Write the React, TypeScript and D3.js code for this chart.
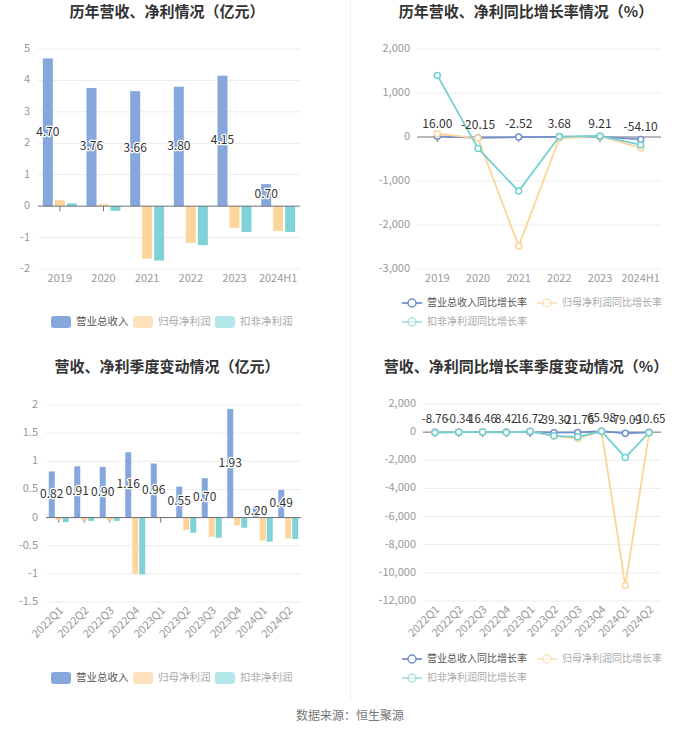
import React from 'react';
import * as d3 from 'd3';

const years = ['2019', '2020', '2021', '2022', '2023', '2024H1'];
const revenue = [4.7, 3.76, 3.66, 3.8, 4.15, 0.7];
const netProfit = [0.19, 0.06, -1.67, -1.17, -0.69, -0.79];
const deductedProfit = [0.09, -0.15, -1.73, -1.24, -0.82, -0.82];
const barYTicks = [-2, -1, 0, 1, 2, 3, 4, 5];

const revenueGrowth = [16.0, -20.15, -2.52, 3.68, 9.21, -54.1];
const netProfitGrowth = [75, -30, -2480, -30, 20, -250];
const deductedGrowth = [1400, -260, -1230, 10, 25, -180];
const growthYTicks = [-3000, -2000, -1000, 0, 1000, 2000];

const quarters = ['2022Q1', '2022Q2', '2022Q3', '2022Q4', '2023Q1', '2023Q2', '2023Q3', '2023Q4', '2024Q1', '2024Q2'];
const qRevenue = [0.82, 0.91, 0.9, 1.16, 0.96, 0.55, 0.7, 1.93, 0.2, 0.49];
const qNetProfit = [-0.04, -0.05, -0.05, -1.0, -0.01, -0.22, -0.34, -0.14, -0.41, -0.37];
const qDeducted = [-0.08, -0.06, -0.06, -1.01, -0.005, -0.27, -0.36, -0.18, -0.43, -0.38];
const qBarYTicks = [-1.5, -1, -0.5, 0, 0.5, 1, 1.5, 2];

const qRevenueGrowth = [-8.76, -0.34, 16.46, 8.42, 16.72, -39.3, -21.76, 65.98, -79.09, -10.65];
const qNetProfitGrowth = [-20, 10, 5, -30, 70, -280, -450, 80, -10900, -60];
const qDeductedGrowth = [-25, 5, 10, -20, 60, -260, -330, 60, -1800, -40];
const qGrowthYTicks = [-12000, -10000, -8000, -6000, -4000, -2000, 0, 2000];

const barSeriesNames = ['营业总收入', '归母净利润', '扣非净利润'];
const lineSeriesNames = ['营业总收入同比增长率', '归母净利润同比增长率', '扣非净利润同比增长率'];

const FONT = '"Noto Sans CJK SC", "Microsoft YaHei", sans-serif';
const BAR_COLORS = ['#86a7dc', '#fdd59c', '#7fd3d7'];
const LEGEND_BAR_COLORS = ['#86a7dc', '#fde2bb', '#b4e7ea'];
const LINE_COLORS = ['#7191cf', '#fdd49a', '#72d0d2'];
const AXIS = '#6e7079';
const GRID = '#ececec';
const LABEL = '#999';

const fmtThousands = (v: number) => v.toLocaleString('en-US');
const fmtPlain = (v: number) => String(v);

type BarProps = {
  cats: string[];
  series: number[][];
  ticks: number[];
  x0: number; x1: number; yTop: number; yBot: number;
  barW: number; gap: number;
  rotate: boolean;
  title: string; titleX: number; titleY: number;
  legendY: number;
};

function BarPanel(p: BarProps) {
  const y = d3.scaleLinear().domain([p.ticks[0], p.ticks[p.ticks.length - 1]]).range([p.yBot, p.yTop]);
  const x = d3.scaleBand().domain(p.cats).range([p.x0, p.x1]);
  const groupW = p.barW * 3 + p.gap * 2;
  const inner = d3.scaleBand().domain(['0', '1', '2']).range([-groupW / 2, groupW / 2]).paddingInner(p.gap / (p.barW + p.gap));
  const y0 = y(0);
  return (
    <g>
      <text x={p.titleX} y={p.titleY} textAnchor="middle" dominantBaseline="middle" fontSize={15} fontWeight="bold" fill="#333">{p.title}</text>
      {p.ticks.map((t) => (
        <g key={t}>
          {t !== 0 && <line x1={p.x0} x2={p.x1} y1={y(t)} y2={y(t)} stroke={GRID} />}
          <text x={p.x0 - 8} y={y(t)} textAnchor="end" dominantBaseline="middle" fontSize={11} fill={LABEL}>{fmtPlain(t)}</text>
        </g>
      ))}
      {p.cats.map((c) => {
        const cx = (x(c) as number) + x.bandwidth() / 2;
        return <line key={c} x1={cx} x2={cx} y1={y0} y2={y0 + 5} stroke={AXIS} />;
      })}
      {p.series.map((s, si) =>
        s.map((v, i) => {
          const cx = (x(p.cats[i]) as number) + x.bandwidth() / 2;
          const bx = cx + (inner(String(si)) as number);
          const top = Math.min(y(v), y0);
          const h = Math.abs(y(v) - y0);
          return <rect key={si + '-' + i} x={bx} y={top} width={inner.bandwidth()} height={Math.max(h, 0.5)} fill={BAR_COLORS[si]} />;
        })
      )}
      <line x1={p.x0} x2={p.x1} y1={y0} y2={y0} stroke={AXIS} />
      {p.series[0].map((v, i) => {
        const cx = (x(p.cats[i]) as number) + x.bandwidth() / 2 + (inner('0') as number) + inner.bandwidth() / 2;
        return (
          <text key={'l' + i} x={cx} y={(y(v) + y0) / 2} textAnchor="middle" dominantBaseline="middle" fontSize={12}
            fill="#333" stroke="#fff" strokeWidth={2.5} paintOrder="stroke" strokeLinejoin="round">{v.toFixed(2)}</text>
        );
      })}
      {p.cats.map((c) => {
        const cx = (x(c) as number) + x.bandwidth() / 2;
        return p.rotate ? (
          <text key={'x' + c} transform={`translate(${cx + 3},${p.yBot + 7}) rotate(-45)`} textAnchor="end" dominantBaseline="middle" fontSize={11} fill={LABEL}>{c}</text>
        ) : (
          <text key={'x' + c} x={cx} y={p.yBot + 10} textAnchor="middle" dominantBaseline="middle" fontSize={11} fill={LABEL}>{c}</text>
        );
      })}
      {barSeriesNames.map((n, i) => {
        const lx = [51, 133, 215][i];
        return (
          <g key={n}>
            <rect x={lx} y={p.legendY - 6} width={20} height={12} rx={3} fill={LEGEND_BAR_COLORS[i]} />
            <text x={lx + 25} y={p.legendY} dominantBaseline="middle" fontSize={10.5} fill={i === 0 ? '#555' : '#aaa'}>{n}</text>
          </g>
        );
      })}
    </g>
  );
}

type LineProps = {
  cats: string[];
  series: number[][];
  ticks: number[];
  x0: number; x1: number; yTop: number; yBot: number;
  rotate: boolean;
  title: string; titleX: number; titleY: number;
  legendY1: number; legendY2: number;
  labelSize: number;
};

function LinePanel(p: LineProps) {
  const y = d3.scaleLinear().domain([p.ticks[0], p.ticks[p.ticks.length - 1]]).range([p.yBot, p.yTop]);
  const x = d3.scalePoint().domain(p.cats).range([p.x0, p.x1]).padding(0.5);
  const y0 = y(0);
  const line = d3.line<number>().x((_, i) => x(p.cats[i]) as number).y((v) => y(v));
  return (
    <g>
      <text x={p.titleX} y={p.titleY} textAnchor="middle" dominantBaseline="middle" fontSize={15} fontWeight="bold" fill="#333">{p.title}</text>
      {p.ticks.map((t) => (
        <g key={t}>
          {t !== 0 && <line x1={p.x0} x2={p.x1} y1={y(t)} y2={y(t)} stroke={GRID} />}
          <text x={p.x0 - 7} y={y(t)} textAnchor="end" dominantBaseline="middle" fontSize={11} fill={LABEL}>{fmtThousands(t)}</text>
        </g>
      ))}
      <line x1={p.x0} x2={p.x1} y1={y0} y2={y0} stroke={AXIS} />
      {p.cats.map((c) => (
        <line key={c} x1={x(c) as number} x2={x(c) as number} y1={y0} y2={y0 + 5} stroke={AXIS} />
      ))}
      {p.series.map((s, si) => (
        <g key={si}>
          <path d={line(s) || ''} fill="none" stroke={LINE_COLORS[si]} strokeWidth={1.8} />
          {s.map((v, i) => (
            <circle key={i} cx={x(p.cats[i]) as number} cy={y(v)} r={3} fill="#fff" stroke={LINE_COLORS[si]} strokeWidth={1.5} />
          ))}
        </g>
      ))}
      {p.series[0].map((v, i) => (
        <text key={'l' + i} x={x(p.cats[i]) as number} y={y(v) - 12} textAnchor="middle" dominantBaseline="middle" fontSize={p.labelSize} fill="#333">{v.toFixed(2)}</text>
      ))}
      {p.cats.map((c) => {
        const cx = x(c) as number;
        return p.rotate ? (
          <text key={'x' + c} transform={`translate(${cx + 3},${p.yBot + 7}) rotate(-45)`} textAnchor="end" dominantBaseline="middle" fontSize={11} fill={LABEL}>{c}</text>
        ) : (
          <text key={'x' + c} x={cx} y={p.yBot + 10} textAnchor="middle" dominantBaseline="middle" fontSize={11} fill={LABEL}>{c}</text>
        );
      })}
      {lineSeriesNames.map((n, i) => {
        const lx = [402, 537, 402][i];
        const ly = i === 2 ? p.legendY2 : p.legendY1;
        return (
          <g key={n}>
            <line x1={lx} x2={lx + 20} y1={ly} y2={ly} stroke={LINE_COLORS[i]} strokeWidth={1.8} opacity={i === 0 ? 1 : 0.6} />
            <circle cx={lx + 10} cy={ly} r={4} fill="#fff" stroke={LINE_COLORS[i]} strokeWidth={1.5} opacity={i === 0 ? 1 : 0.6} />
            <text x={lx + 25} y={ly} dominantBaseline="middle" fontSize={10} fill={i === 0 ? '#555' : '#aaa'}>{n}</text>
          </g>
        );
      })}
    </g>
  );
}

export default function App() {
  return (
    <svg width={700} height={734} style={{ position: 'absolute', left: 0, top: 0, background: '#fff' }} fontFamily={FONT}>
      <rect x={0} y={0} width={700} height={734} fill="#fff" />
      <line x1={350.5} x2={350.5} y1={0} y2={700} stroke="#f0f0f0" />
      <BarPanel cats={years} series={[revenue, netProfit, deductedProfit]} ticks={barYTicks}
        x0={38} x1={300} yTop={49} yBot={269} barW={10} gap={2} rotate={false}
        title="历年营收、净利情况（亿元）" titleX={167} titleY={13} legendY={322} />
      <LinePanel cats={years} series={[revenueGrowth, netProfitGrowth, deductedGrowth]} ticks={growthYTicks}
        x0={417} x1={661} yTop={49} yBot={269} rotate={false} labelSize={12}
        title="历年营收、净利同比增长率情况（%）" titleX={526} titleY={13} legendY1={303} legendY2={322} />
      <BarPanel cats={quarters} series={[qRevenue, qNetProfit, qDeducted]} ticks={qBarYTicks}
        x0={46} x1={301} yTop={405} yBot={602} barW={6} gap={1} rotate={true}
        title="营收、净利季度变动情况（亿元）" titleX={167} titleY={368} legendY={678} />
      <LinePanel cats={quarters} series={[qRevenueGrowth, qNetProfitGrowth, qDeductedGrowth]} ticks={qGrowthYTicks}
        x0={423} x1={661} yTop={404} yBot={601} rotate={true} labelSize={11.5}
        title="营收、净利同比增长率季度变动情况（%）" titleX={526} titleY={368} legendY1={659} legendY2={678} />
      <text x={350} y={717} textAnchor="middle" dominantBaseline="middle" fontSize={12} fill="#777">数据来源：恒生聚源</text>
    </svg>
  );
}
